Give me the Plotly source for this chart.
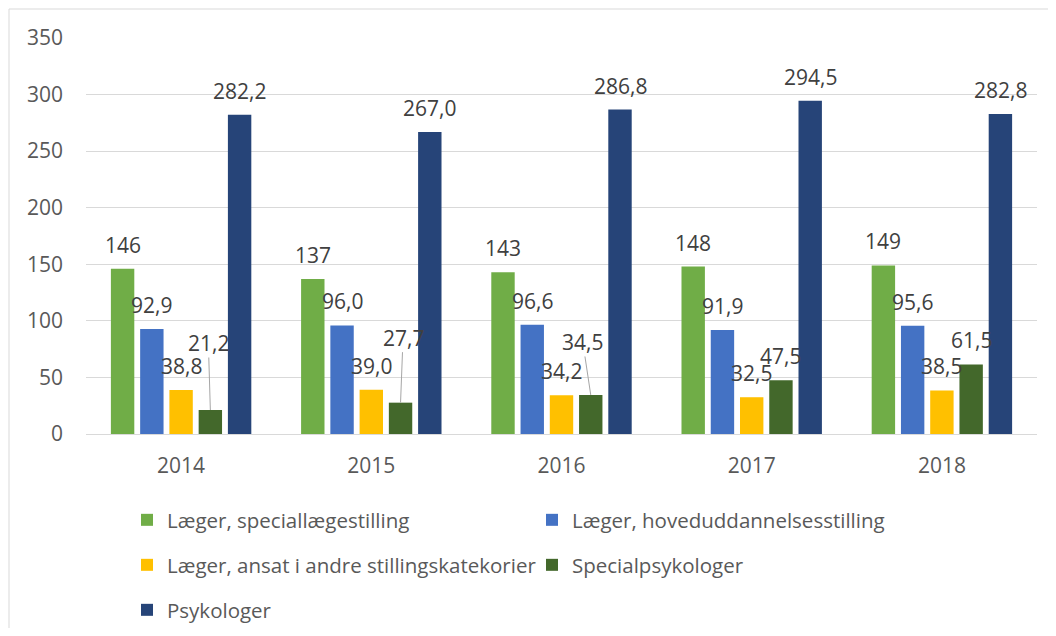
import plotly.graph_objects as go

years = ["2014", "2015", "2016", "2017", "2018"]
series_names = [
    "Læger, speciallægestilling",
    "Læger, hoveduddannelsesstilling",
    "Læger, ansat i andre stillingskatekorier",
    "Specialpsykologer",
    "Psykologer",
]
laeger_special = [146, 137, 143, 148, 149]
laeger_hoved = [92.9, 96.0, 96.6, 91.9, 95.6]
laeger_andre = [38.8, 39.0, 34.2, 32.5, 38.5]
specialpsykologer = [21.2, 27.7, 34.5, 47.5, 61.5]
psykologer = [282.2, 267.0, 286.8, 294.5, 282.8]
label_decimals = [0, 1, 1, 1, 1]

series_values = [laeger_special, laeger_hoved, laeger_andre, specialpsykologer, psykologer]
colors = ["#70AD47", "#4472C4", "#FFC000", "#43682B", "#264478"]

# label placement tweaks (series index, category index) -> (dx px, dy px) with leader line
leader_offsets = {(3, 0): (-2, -67), (3, 1): (2.5, -65), (3, 2): (-8, -53)}

FONT = "Open Sans"
FS = 21
LEG_FS = 20.5
BARGAP = 0.231
GROUPGAP = 0.2
n = len(series_values)
slot = (1 - BARGAP) / n

# page body has an 8px margin on every side; keep the figure inside the window
OFF = 8
W, H = 1056 - 2 * OFF, 636 - 2 * OFF
L, T = 86 - OFF, 38 - OFF
R = W - (1037 - OFF)
B = H - (434 - OFF)
pw, ph = W - L - R, H - T - B

legend_of = ["legend", "legend", "legend2", "legend2", "legend3"]

fig = go.Figure()
xs = list(range(len(years)))
for i, (name, vals, col) in enumerate(zip(series_names, series_values, colors)):
    fig.add_trace(go.Bar(
        x=xs, y=vals, name=name, marker=dict(color=col, line=dict(width=0)),
        legend=legend_of[i], hoverinfo="skip",
    ))

annotations = []
for i, vals in enumerate(series_values):
    for j, v in enumerate(vals):
        txt = f"{v:.{label_decimals[i]}f}".replace(".", ",")
        xpos = j + (i - (n - 1) / 2) * slot
        if (i, j) in leader_offsets:
            dx, dy = leader_offsets[(i, j)]
            annotations.append(dict(
                x=xpos, y=v, xref="x", yref="y", text=txt, showarrow=True,
                arrowhead=0, arrowwidth=1, arrowcolor="#A6A6A6", ax=dx, ay=dy,
                standoff=0, font=dict(family=FONT, size=FS, color="#404040"),
                borderpad=0,
            ))
        else:
            annotations.append(dict(
                x=xpos, y=v, xref="x", yref="y", text=txt, showarrow=False,
                yshift=24, font=dict(family=FONT, size=FS, color="#404040"),
            ))

def px_to_paper_y(yp):
    # yp in reference-window pixels
    return (T + ph - (yp - OFF)) / ph

def px_to_paper_x(xp):
    return ((xp - OFF) - L) / pw

legend_common = dict(
    orientation="h", xanchor="left", yanchor="middle",
    font=dict(family=FONT, size=LEG_FS, color="#595959"),
    entrywidth=360, entrywidthmode="pixels", itemwidth=30,
    bgcolor="rgba(0,0,0,0)", traceorder="normal",
)

fig.update_layout(
    width=W, height=H,
    margin=dict(l=L, r=R, t=T, b=B, autoexpand=False),
    paper_bgcolor="white", plot_bgcolor="white",
    barmode="group", bargap=BARGAP, bargroupgap=GROUPGAP,
    font=dict(family=FONT, size=FS, color="#595959"),
    xaxis=dict(
        tickvals=xs, ticktext=years, range=[-0.5, len(years) - 0.5],
        showgrid=False, zeroline=False, showline=True, linecolor="#D9D9D9",
        linewidth=1, ticks="", ticklabelstandoff=13, automargin=False,
        tickfont=dict(family=FONT, size=FS, color="#595959"),
    ),
    yaxis=dict(
        range=[0, 350], dtick=50, showgrid=True, gridcolor="#D9D9D9", gridwidth=1,
        zeroline=False, showline=False, ticks="", ticklabelstandoff=22, automargin=False,
        tickfont=dict(family=FONT, size=FS, color="#595959"),
    ),
    legend=dict(x=px_to_paper_x(127), y=px_to_paper_y(520), **legend_common),
    legend2=dict(x=px_to_paper_x(127), y=px_to_paper_y(565), **legend_common),
    legend3=dict(x=px_to_paper_x(127), y=px_to_paper_y(610), **legend_common),
    annotations=annotations,
    shapes=[dict(
        type="rect", xref="paper", yref="paper",
        x0=px_to_paper_x(9), x1=px_to_paper_x(1056 + 20),
        y0=px_to_paper_y(636 + 20), y1=px_to_paper_y(9),
        line=dict(color="#D9D9D9", width=1), fillcolor="rgba(0,0,0,0)", layer="below",
    )],
)

fig.write_html("out.html")
